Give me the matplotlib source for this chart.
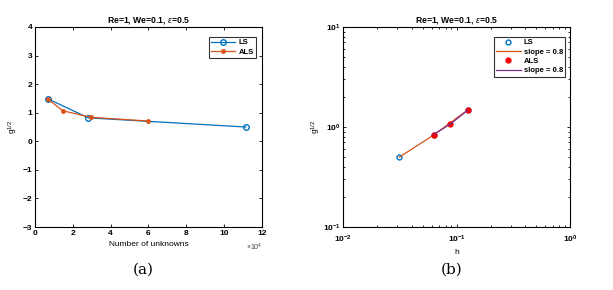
import numpy as np
import matplotlib.pyplot as plt
from matplotlib.ticker import FuncFormatter, LogLocator, NullFormatter

plt.rcParams['font.family'] = ['Liberation Sans', 'DejaVu Sans']
plt.rcParams['mathtext.fontset'] = 'custom'
plt.rcParams['mathtext.rm'] = 'Liberation Sans'
plt.rcParams['mathtext.it'] = 'Liberation Sans:italic'

blue = "#0072BD"
orange = "#D95319"
purple = "#7E2F8E"

# (a) error vs number of unknowns
ls_unknowns = [7000, 28200, 111400]
ls_err = [1.48, 0.82, 0.50]
als_unknowns = [7000, 14600, 29500, 59600]
als_err = [1.47, 1.07, 0.84, 0.71]

# (b) error vs mesh size
ls_h = [0.03125, 0.0625, 0.125]
ls_err_h = [0.50, 0.83, 1.48]
als_h = [0.0625, 0.088, 0.125]
als_err_h = [0.84, 1.07, 1.47]
slope_label = "slope = 0.8"

title = "Re=1, We=0.1, $\\epsilon$=0.5"
ylab = "g$^{1/2}$"


def style_axis(ax):
    ax.tick_params(direction='in', which='both', top=True, right=True,
                   labelsize=6, length=2.5, width=0.6, pad=2)
    ax.tick_params(which='minor', length=1.5)
    for s in ax.spines.values():
        s.set_linewidth(0.8)
    for lab in ax.get_xticklabels() + ax.get_yticklabels():
        lab.set_fontweight('bold')
    ax.set_title(title, fontsize=6.2, fontweight='bold', pad=3)


fig = plt.figure(figsize=(6.13, 2.90), dpi=100)
ax1 = fig.add_axes([0.0571, 0.2172, 0.3703, 0.6897])
ax2 = fig.add_axes([0.5600, 0.2172, 0.3700, 0.6897])

# panel (a)
ax1.plot(ls_unknowns, ls_err, '-o', color=blue, lw=0.9, ms=4,
         mfc='none', mew=1.0, label="LS")
ax1.plot(als_unknowns, als_err, '-o', color=orange, lw=0.9, ms=2.5,
         label="ALS")
ax1.set_xlim(0, 120000)
ax1.set_ylim(-3, 4)
ax1.set_xticks(np.arange(0, 120001, 20000))
ax1.xaxis.set_major_formatter(FuncFormatter(lambda v, p: f"{v/1e4:g}"))
ax1.set_yticks(range(-3, 5))
ax1.set_xlabel("Number of unknowns", fontsize=6, labelpad=3)
ax1.set_ylabel(ylab, fontsize=6, labelpad=2)
style_axis(ax1)
ax1.text(1.0, -0.075, "×10$^4$", transform=ax1.transAxes, fontsize=5,
         ha='right', va='top', color='#444444')
leg1 = ax1.legend(loc='upper right', fontsize=5.5, handlelength=3.2,
                  fancybox=False, edgecolor='black', borderpad=0.3,
                  labelspacing=0.3, handletextpad=0.4,
                  bbox_to_anchor=(0.99, 0.97))
leg1.get_frame().set_linewidth(0.8)
for t in leg1.get_texts():
    t.set_fontweight('bold')

# panel (b)
ax2.set_xscale('log')
ax2.set_yscale('log')
ax2.plot(ls_h, ls_err_h, 'o', color=blue, ms=3.5, mfc='none', mew=1.0,
         label="LS")
ax2.plot(ls_h, ls_err_h, '-', color=orange, lw=0.9, label=slope_label)
ax2.plot(als_h, als_err_h, 'o', color='red', ms=3.5, label="ALS")
ax2.plot(als_h, als_err_h, '-', color=purple, lw=0.9, label=slope_label)
ax2.set_xlim(1e-2, 1)
ax2.set_ylim(1e-1, 10)
ax2.xaxis.set_minor_locator(LogLocator(subs=np.arange(2, 10)))
ax2.yaxis.set_minor_locator(LogLocator(subs=np.arange(2, 10)))
ax2.xaxis.set_minor_formatter(NullFormatter())
ax2.yaxis.set_minor_formatter(NullFormatter())
ax2.set_xlabel("h", fontsize=6, labelpad=3)
ax2.set_ylabel(ylab, fontsize=6, labelpad=0)
style_axis(ax2)
ax2.tick_params(axis='x', which='both', pad=4.5)
leg2 = ax2.legend(loc='upper right', fontsize=5.5, handlelength=3.2,
                  fancybox=False, edgecolor='black', borderpad=0.3,
                  labelspacing=0.25, handletextpad=0.4,
                  bbox_to_anchor=(0.995, 0.97))
leg2.get_frame().set_linewidth(0.8)
for t in leg2.get_texts():
    t.set_fontweight('bold')

fig.text(0.233, 0.069, "(a)", family='DejaVu Serif', fontsize=11,
         ha='center', va='center')
fig.text(0.737, 0.069, "(b)", family='DejaVu Serif', fontsize=11,
         ha='center', va='center')

fig.savefig("out.png", dpi=100)
